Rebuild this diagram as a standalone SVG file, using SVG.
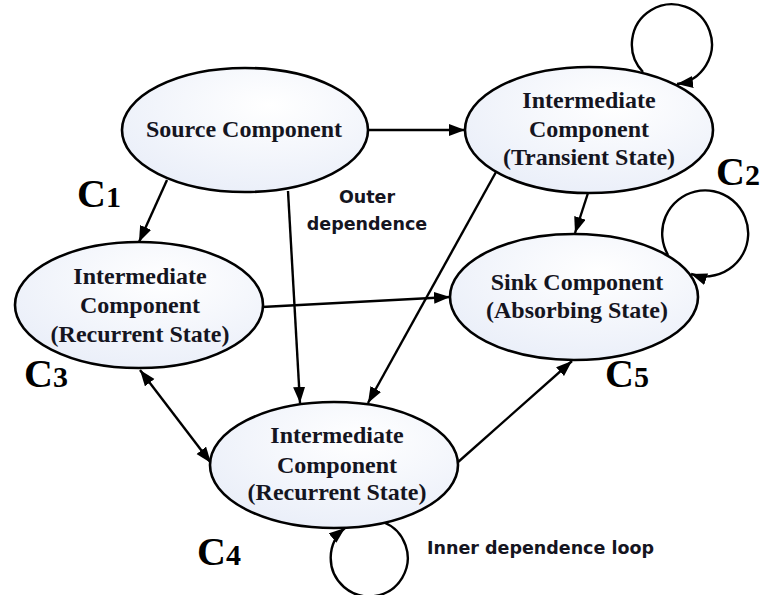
<svg xmlns="http://www.w3.org/2000/svg" width="763" height="595" viewBox="0 0 763 595">
  <style>
    .node { fill: url(#nodeFill); stroke: #000; stroke-width: 2.6; }
    .label { font-family: "Liberation Serif", "Times New Roman", serif; font-weight: bold; font-size: 24px; fill: #15151f; text-anchor: middle; }
    .edge { fill: none; stroke: #000; stroke-width: 2.4; marker-end: url(#arrow); }
    .note { font-family: "DejaVu Sans", Verdana, sans-serif; font-weight: bold; font-size: 17.5px; fill: #15151f; }
    .cname { font-family: "Liberation Serif", "Times New Roman", serif; font-weight: bold; font-size: 40px; fill: #000; }
    .sub { font-size: 30px; }
  </style>
  <defs>
    <radialGradient id="nodeFill" cx="0.6" cy="0.3" r="0.8">
      <stop offset="0" stop-color="#ffffff"/>
      <stop offset="1" stop-color="#e8edf8"/>
    </radialGradient>
    <marker id="arrow" markerUnits="userSpaceOnUse" markerWidth="18" markerHeight="14" refX="16" refY="6" orient="auto-start-reverse">
      <path d="M0,0 L16,6 L0,12 z" fill="#000"/>
    </marker>
  </defs>

  <rect width="763" height="595" fill="#fff"/>

  <!-- connectors -->
  <g id="connectors">
    <line class="edge" x1="367" y1="130" x2="465" y2="130"/>
    <line class="edge" x1="167" y1="180" x2="139" y2="242"/>
    <line class="edge" x1="288" y1="191" x2="300" y2="403"/>
    <line class="edge" x1="496" y1="172" x2="368" y2="403"/>
    <line class="edge" x1="588" y1="193" x2="575" y2="233"/>
    <line class="edge" x1="262" y1="307" x2="450" y2="297"/>
    <line class="edge" x1="140" y1="370" x2="211" y2="463" style="marker-start: url(#arrow)"/>
    <line class="edge" x1="457" y1="463" x2="572" y2="361"/>
    <!-- self loops -->
    <path class="edge" d="M643,72 A40,40 0 1 1 677,84"/>
    <path class="edge" d="M668,255 A43,43 0 1 1 691,274"/>
    <path class="edge" d="M383,522 A38.5,38.5 0 1 1 345,528"/>
  </g>

  <!-- C1: source -->
  <g id="source">
    <ellipse class="node" cx="245" cy="130" rx="123" ry="62"/>
    <text class="label" x="244" y="137">Source Component</text>
  </g>

  <!-- C2: transient intermediate -->
  <g id="transient">
    <ellipse class="node" cx="589" cy="130" rx="124" ry="63"/>
    <text class="label" x="589" y="108">Intermediate</text>
    <text class="label" x="589" y="137">Component</text>
    <text class="label" x="589" y="165">(Transient State)</text>
  </g>

  <!-- C3: recurrent intermediate -->
  <g id="recurrent-left">
    <ellipse class="node" cx="139" cy="305" rx="124" ry="63"/>
    <text class="label" x="140" y="284">Intermediate</text>
    <text class="label" x="140" y="313">Component</text>
    <text class="label" x="140" y="342">(Recurrent State)</text>
  </g>

  <!-- C5: sink -->
  <g id="sink">
    <ellipse class="node" cx="574" cy="297" rx="124" ry="63"/>
    <text class="label" x="577" y="290">Sink Component</text>
    <text class="label" x="577" y="318">(Absorbing State)</text>
  </g>

  <!-- C4: recurrent intermediate -->
  <g id="recurrent-bottom">
    <ellipse class="node" cx="334" cy="465" rx="124" ry="63"/>
    <text class="label" x="337" y="443">Intermediate</text>
    <text class="label" x="337" y="473">Component</text>
    <text class="label" x="337" y="500">(Recurrent State)</text>
  </g>

  <!-- annotations -->
  <g id="annotations">
    <text class="note" x="367" y="203" text-anchor="middle">Outer</text>
    <text class="note" x="367" y="230" text-anchor="middle">dependence</text>
    <text class="note" x="427" y="554">Inner dependence loop</text>
    <text class="cname" x="77" y="207">C<tspan class="sub">1</tspan></text>
    <text class="cname" x="716" y="185">C<tspan class="sub">2</tspan></text>
    <text class="cname" x="24" y="387">C<tspan class="sub">3</tspan></text>
    <text class="cname" x="197" y="565">C<tspan class="sub">4</tspan></text>
    <text class="cname" x="605" y="387">C<tspan class="sub">5</tspan></text>
  </g>
</svg>
